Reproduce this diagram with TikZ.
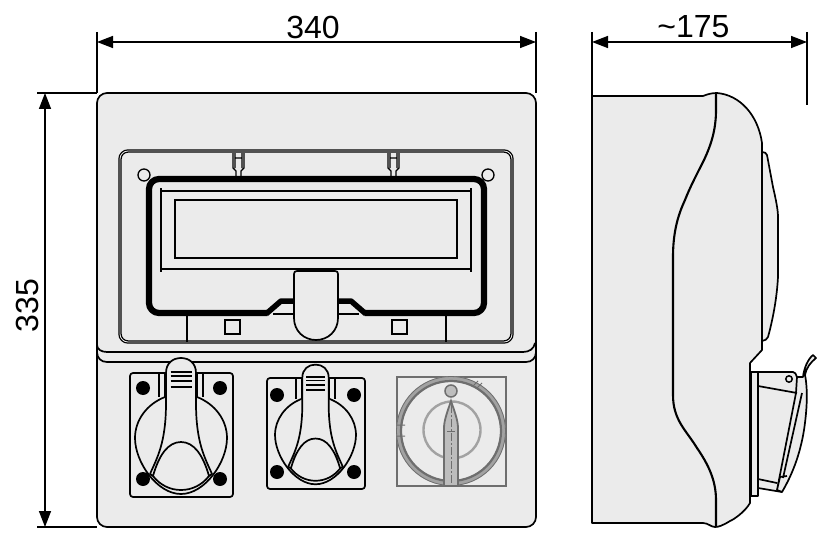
\documentclass[tikz,border=0pt]{standalone}
\usepackage{fontspec}
\setmainfont{Liberation Sans}
\usetikzlibrary{arrows.meta}
\definecolor{bodygrey}{HTML}{EBEBEB}
\definecolor{switchgrey}{HTML}{6E6E6E}
\definecolor{ringgrey}{HTML}{A2A2A2}
\definecolor{knobgrey}{HTML}{BDBDBD}
\begin{document}
\begin{tikzpicture}[x=1pt,y=-1pt,>={Triangle[length=16pt,width=12pt]},
    outline/.style={draw=black,line width=1.7pt,line join=round},
    thin line/.style={draw=black,line width=1.3pt},
    frame line/.style={draw=black,double=bodygrey,line width=1.3pt,double distance=0.8pt},
    dim line/.style={<->,draw=black,line width=1.5pt},
    ext line/.style={draw=black,line width=1.4pt},
    dim label/.style={font=\fontsize{32}{32}\selectfont,inner sep=0pt},
    screw/.style={fill=black,draw=none},
    socket/.pic={
        \draw[outline] (-16,-41) .. controls (-34,-34) and (-46,-18) .. (-46,0)
            .. controls (-46,24) and (-24,56) .. (0,56)
            .. controls (24,56) and (46,24) .. (46,0)
            .. controls (46,-18) and (34,-34) .. (16,-41);
        \draw[outline,fill=bodygrey] (-31,36) .. controls (-24,20) and (-15,5) .. (-15,-35)
            -- (-15,-65) .. controls (-15,-75) and (-8,-80) .. (0,-80)
            .. controls (8,-80) and (15,-75) .. (15,-65) -- (15,-35)
            .. controls (15,5) and (24,20) .. (31,36) -- (28,38)
            .. controls (22,17) and (13,4) .. (0,4)
            .. controls (-13,4) and (-22,17) .. (-28,38) -- cycle;
        \draw[outline] (-28,38) .. controls (-21,47) and (-11,52) .. (0,52)
            .. controls (11,52) and (21,47) .. (28,38);
        \draw[outline] (-22,-65) -- (-22,-41) (-16,-65) -- (-16,-41)
            (16,-65) -- (16,-41) (22,-65) -- (22,-41);
        \foreach \y/\w in {-66/2.2,-62/1.6,-57/1.6,-51/2.6}
            \draw[line width=\w pt] (-10.5,\y) -- (10.5,\y);
    }]
\useasboundingbox (0,0) rectangle (828,551);

\draw[outline,fill=bodygrey,rounded corners=10pt] (97,93) rectangle (536,527);
\draw[outline] (97,345) .. controls (97,349) and (101,352) .. (107,352) -- (523,352)
    .. controls (529,352) and (534,349) .. (535,343);
\draw[outline] (97,352) .. controls (97,358) and (101,362) .. (107,362) -- (526,362)
    .. controls (532,362) and (536,358) .. (536,352);

\draw[frame line,rounded corners=8pt] (120,151) rectangle (512,342);
\foreach \x in {144,488}
    \draw[thin line] (\x,175) circle[radius=6pt];
\foreach \x in {233,388} {
    \draw[thin line] (\x,153) -- (\x,168) -- (\x+3,171) -- (\x+3,176)
        (\x+11,153) -- (\x+11,168) -- (\x+8,171) -- (\x+8,176)
        (\x+2,153) -- (\x+2,168) (\x+9,153) -- (\x+9,168) (\x+2,158) -- (\x+9,158);
}

\draw[thin line] (187,316) -- (187,342) (446,316) -- (446,342);
\draw[thin line] (273,314) -- (294,314) (338,314) -- (359,314);
\draw[draw=black,line width=6.2pt,line join=round,rounded corners=10pt] (267,313) -- (149,313) -- (149,179) -- (484,179) -- (484,313) -- (365,313);
\draw[draw=black,line width=5.5pt,line join=round] (266,314) -- (281,301) -- (296,301) (336,301) -- (351,301) -- (366,314);
\draw[draw=black,line width=1.8pt] (161,188) -- (161,272) (471,188) -- (471,272);
\draw[thin line] (161,191) -- (471,191);
\draw[thin line,line width=1.6pt] (161,269) -- (471,269);
\draw[thin line] (175,200) rectangle (457,258);
\draw[outline,fill=bodygrey] (294,274) .. controls (294,272) and (295,271) .. (297,271) -- (335,271)
    .. controls (337,271) and (338,272) .. (338,274) -- (338,318)
    .. controls (338,331) and (328,340) .. (316,340)
    .. controls (304,340) and (294,331) .. (294,318) -- cycle;
\draw[thin line,line width=1.5pt] (225,320) rectangle (240,334) (392,320) rectangle (407,334);

\draw[outline,rounded corners=3pt] (130,373) rectangle (233,497);
\foreach \x/\y in {143/388,220/388,143/479,220/479}
    \fill[screw] (\x,\y) circle[radius=7pt];
\pic at (181,438) {socket};

\draw[outline,rounded corners=3pt] (267,378) rectangle (365,489);
\foreach \x/\y in {277/395,354/395,277/472,354/472}
    \fill[screw] (\x,\y) circle[radius=7pt];
\pic[scale=0.88] at (315.5,435) {socket};

\draw[draw=switchgrey,line width=1.2pt] (397,377) rectangle (506,486);
\draw[draw=ringgrey,line width=5.5pt] (451,431) circle[radius=52pt];
\draw[draw=switchgrey,line width=2.2pt] (451,431) circle[radius=50pt];
\draw[draw=switchgrey,line width=0.8pt] (451,431) circle[radius=54.5pt];
\draw[draw=ringgrey,line width=2.4pt] (452,430) circle[radius=28.5pt];
\draw[draw=switchgrey,line width=1.5pt,fill=knobgrey] (451,391) circle[radius=6pt];
\draw[draw=switchgrey,line width=1pt] (397,425) -- (405,425) (397,436) -- (405,436)
    (473,386) -- (478,381) (477,388) -- (482,383);
\draw[draw=switchgrey,line width=1.8pt,fill=knobgrey] (444,486) -- (444,428)
    .. controls (444,420) and (448,410) .. (451,401)
    .. controls (454,410) and (458,420) .. (458,428) -- (458,486) -- cycle;
\draw[draw=switchgrey,line width=0.8pt,dash pattern=on 8pt off 2pt on 2pt off 2pt] (451,405) -- (451,484);
\draw[draw=switchgrey,line width=0.8pt] (447,431) -- (455,431);

\draw[outline,fill=bodygrey] (762,152) .. controls (765,152) and (766,153) .. (767,155)
    -- (773,187) .. controls (776,200) and (778,210) .. (778,217) -- (778,277)
    .. controls (777,295) and (774,315) .. (768,337)
    .. controls (767,339) and (765,341) .. (762,341) -- cycle;
\draw[outline,fill=bodygrey] (751,372) -- (793,372) .. controls (795,372) and (796,374) .. (797,377)
    -- (803,377) .. controls (804,368) and (808,359) .. (813,355) -- (816,358)
    .. controls (811,362) and (806,368) .. (805,375)
    .. controls (808,390) and (807,410) .. (804,430)
    .. controls (800,455) and (792,475) .. (782,492) -- (758,488) -- (758,496) -- (751,496) -- cycle;
\draw[outline] (758,372) -- (758,488) (758,386) -- (797,393) (758,479) -- (777,483)
    (797,377) -- (796,393) -- (777,490) -- (782,492) (802,393) -- (783,478)
    (780,477) -- (787,476) (780,477) -- (777,490);
\draw[thin line,fill=bodygrey,line width=1.5pt] (789,379) circle[radius=3.2pt];
\draw[outline,fill=bodygrey] (592,96) -- (703,96) .. controls (708,94) and (712,93) .. (717,93)
    .. controls (740,95) and (758,115) .. (762,143) -- (762,350) -- (750,363) -- (750,503)
    .. controls (745,512) and (733,520) .. (730,521) .. controls (722,526) and (718,527) .. (715,527)
    .. controls (711,527) and (708,523) .. (703,523) -- (592,523) -- cycle;
\draw[outline,line width=2.1pt] (716,93) -- (716,110) .. controls (716,130) and (711,145) .. (704,160)
    .. controls (698,172) and (690,187) .. (685,200) .. controls (678,215) and (673,232) .. (673,257)
    -- (673,395) .. controls (673,420) and (686,430) .. (697,448)
    .. controls (708,464) and (716,480) .. (716,500) -- (716,527);

\coordinate (widthL) at (97,42);
\coordinate (widthR) at (536,42);
\coordinate (depthL) at (592,42);
\coordinate (depthR) at (807,42);
\coordinate (heightT) at (45,93);
\coordinate (heightB) at (45,527);
\draw[ext line] (97,32) -- (97,93) (536,32) -- (536,93);
\draw[ext line] (592,32) -- (592,96) (807,32) -- (807,105);
\draw[ext line] (37,93) -- (97,93) (37,527) -- (97,527);
\draw[dim line] (widthL) -- (widthR);
\draw[dim line] (depthL) -- (depthR);
\draw[dim line] (heightT) -- (heightB);
\node[dim label] (width) at (313,27) {340};
\node[dim label] (depth) at (693.5,27) {\string~175};
\node[dim label,rotate=90] (height) at (27.5,305.5) {335};
\end{tikzpicture}
\end{document}
